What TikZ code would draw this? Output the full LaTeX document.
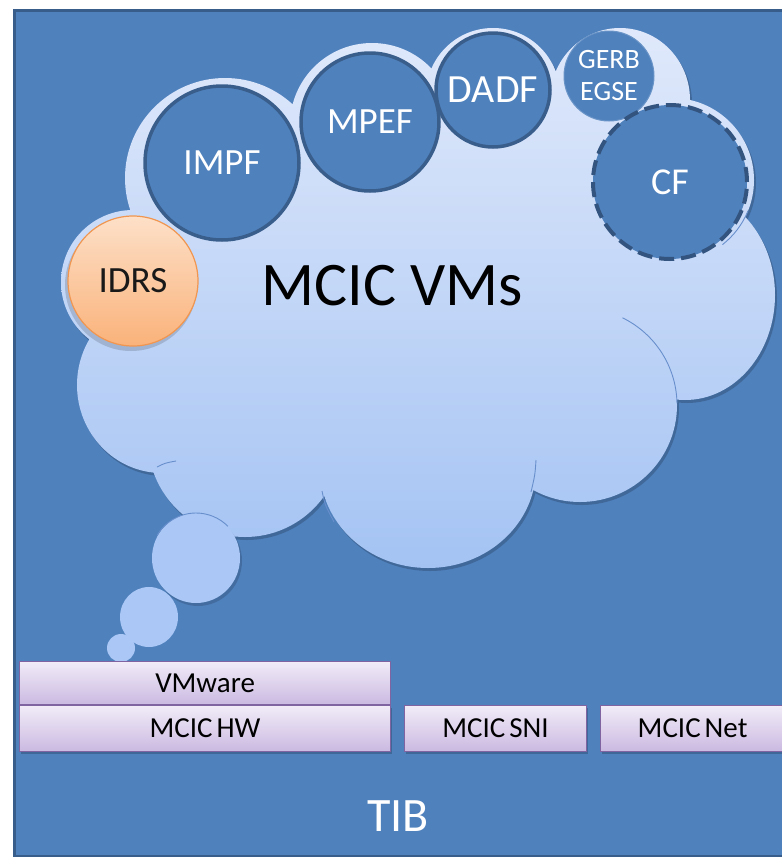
\documentclass[tikz,border=0pt]{standalone}
\usepackage{fontspec}
\setmainfont{Carlito}
\definecolor{tibblue}{RGB}{79,129,189}
\definecolor{tibedge}{RGB}{56,93,138}
\definecolor{cloudtop}{RGB}{224,233,251}
\definecolor{cloudbot}{RGB}{164,195,243}
\definecolor{lobeline}{RGB}{104,143,204}
\definecolor{vmedge}{RGB}{58,94,140}
\definecolor{cfedge}{RGB}{52,84,128}
\definecolor{idrstop}{RGB}{253,224,200}
\definecolor{idrsbot}{RGB}{250,178,122}
\definecolor{idrsedge}{RGB}{240,150,80}
\definecolor{boxtop}{RGB}{241,236,248}
\definecolor{boxbot}{RGB}{203,185,225}
\definecolor{boxedge}{RGB}{128,100,162}
\definecolor{bubble}{RGB}{170,199,245}
\newcommand\cloudlobes{%
  (133,282) ellipse[x radius=72,y radius=72]
  (225,178) ellipse[x radius=100,y radius=100]
  (372,125) ellipse[x radius=82,y radius=82]
  (493,95) ellipse[x radius=67,y radius=67]
  (620,100) ellipse[x radius=70,y radius=72]
  (672,180) ellipse[x radius=82,y radius=82]
  (570,175) ellipse[x radius=70,y radius=60]
  (685,295) ellipse[x radius=90,y radius=105]
  (580,405) ellipse[x radius=97,y radius=97]
  (428,468) ellipse[x radius=108,y radius=100]
  (245,440) ellipse[x radius=97,y radius=97]
  (162,385) ellipse[x radius=85,y radius=88]
  (420,300) ellipse[x radius=260,y radius=170]}
\tikzset{
  vmcirc/.style={circle, fill=tibblue, draw=vmedge, line width=3.5pt,
    text=white, inner sep=0pt, font=\fontsize{37}{42}\selectfont},
  layerbox/.style={rectangle, draw=boxedge, line width=1.2pt,
    top color=boxtop, bottom color=boxbot, inner sep=0pt, anchor=north west,
    font=\fontsize{29}{32}\selectfont, text=black},
  thinlobe/.style={draw=lobeline, line width=0.9pt},
}
\begin{document}
\begin{tikzpicture}[x=1pt,y=-1pt]
\useasboundingbox (0,0) rectangle (782,857);
\fill[white] (0,0) rectangle (782,857);
% outer platform frame
\node[draw=tibedge, fill=tibblue, line width=2.5pt, rectangle, inner sep=0pt,
  minimum width=780pt, minimum height=846pt, anchor=north west] (frame) at (13,9) {};
\node[text=white, font=\fontsize{48}{52}\selectfont] (tib) at (398,816) {TIB};
% cloud shadow and cloud body
\fill[black, opacity=0.18, shift={(2,3)}] \cloudlobes;
\shade[top color=cloudtop, bottom color=cloudbot] \cloudlobes;
% internal lobe edges
\draw[thinlobe] (580,405) ++(-64:97) arc[start angle=-64, end angle=-1, radius=97];
\draw[thinlobe] (322,491) .. controls (325,505) .. (334,522);
\draw[thinlobe] (536,460) .. controls (535,475) .. (531,492);
\draw[thinlobe] (157,467) .. controls (165,463) .. (176,461);
\draw[thinlobe] (672,180) ++(22:82) arc[start angle=22, end angle=52, radius=82];
% thought bubbles
\fill[black, opacity=0.15] (198,561) ellipse[x radius=44, y radius=45];
\fill[bubble] (196,558) ellipse[x radius=44, y radius=45];
\draw[thinlobe] (196,558) ++(-150:45) arc[start angle=-150, end angle=-45, radius=45];
\fill[bubble] (149,617) ellipse[x radius=29, y radius=30];
\fill[bubble] (121,648) circle[radius=14];
% virtual machines
\node[vmcirc, minimum size=154pt] (impf) at (222,163) {IMPF};
\node[vmcirc, minimum size=138pt] (mpef) at (370,122) {MPEF};
\node[vmcirc, minimum size=114pt, font=\fontsize{40}{44}\selectfont] (dadf) at (493,90) {DADF};
\node[vmcirc, minimum size=90pt, draw=tibblue!85!white, line width=1pt,
  align=center, font=\fontsize{28}{32}\selectfont] (gerb) at (609,76) {GERB\\EGSE};
\node[vmcirc, minimum size=154pt, draw=cfedge, line width=4pt,
  dash pattern=on 15pt off 7pt, font=\fontsize{38}{42}\selectfont] (cf) at (670,182) {CF};
\fill[black, opacity=0.15] (131,285) circle[radius=66];
\node[circle, minimum size=130pt, inner sep=0pt, draw=idrsedge, line width=1.2pt,
  top color=idrstop, bottom color=idrsbot, text=black!90,
  font=\fontsize{37}{40}\selectfont] (idrs) at (133,281) {IDRS};
\node[text=black, font=\fontsize{62}{66}\selectfont] (vms) at (392,286) {MCIC VMs};
% hardware layers
\fill[black, opacity=0.2] (21,708) rectangle (392,754);
\fill[black, opacity=0.2] (406,708) rectangle (588,754);
\fill[black, opacity=0.2] (602,708) rectangle (784,754);
\node[layerbox, minimum width=371pt, minimum height=43pt] (vmware) at (19,661) {VMware};
\node[layerbox, minimum width=371pt, minimum height=46pt] (hw) at (19,705) {MCIC\hspace{4pt}HW};
\node[layerbox, minimum width=182pt, minimum height=46pt] (sni) at (404,705) {MCIC\hspace{4pt}SNI};
\node[layerbox, minimum width=184pt, minimum height=46pt] (net) at (600,705) {MCIC\hspace{4pt}Net};
\end{tikzpicture}
\end{document}
